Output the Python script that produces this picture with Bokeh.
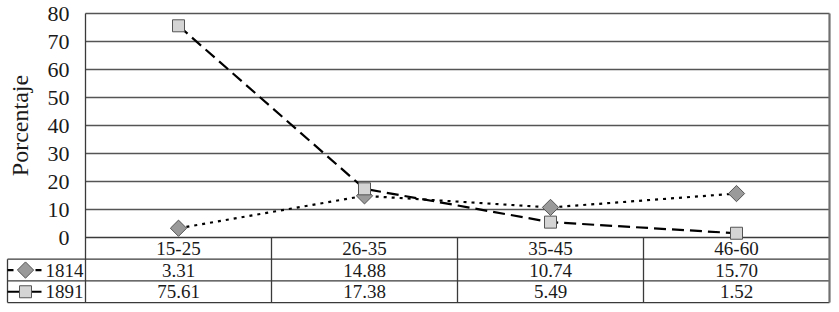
import numpy as np
from bokeh.plotting import figure
from bokeh.models import Range1d, ColumnDataSource
from bokeh.core.properties import value
from bokeh.embed import file_html
from bokeh.resources import INLINE

categories = ["15-25", "26-35", "35-45", "46-60"]
series_names = ["1814", "1891"]
values_1814 = [3.31, 14.88, 10.74, 15.70]
values_1891 = [75.61, 17.38, 5.49, 1.52]
y_ticks = [0, 10, 20, 30, 40, 50, 60, 70, 80]
y_label = "Porcentaje"

FONT = "Liberation Serif"
TXT = "#1a1a1a"
n = len(categories)
xs = [i + 0.5 for i in range(n)]

# ---- layout constants (pixels) ----
W, H = 831, 305
PX_X = 186.0          # pixels per category
PX_Y = 2.8            # pixels per percentage point
LEFT_COL = 85         # canvas-left to plot-area-left
TOP = 13              # space above y=80
ROW_H = 21.7          # table row height
TABLE_L = 7           # table left edge (px from canvas left)

def dx(px):
    return px / PX_X

def dy(px):
    return px / PX_Y

x_left = -dx(LEFT_COL)
x_right = n + dx(W - LEFT_COL - n * PX_X)
y_top = 80 + dy(TOP)
y_bottom = y_top - dy(H)
rows = [0, -dy(ROW_H), -dy(2 * ROW_H), -dy(3 * ROW_H)]

p = figure(width=W, height=H, output_backend="svg", toolbar_location=None,
           x_range=Range1d(x_left, x_right), y_range=Range1d(y_bottom, y_top),
           x_axis_location=None, y_axis_location=None,
           min_border=0, min_border_left=0, min_border_right=0,
           min_border_top=0, min_border_bottom=0)
p.outline_line_color = None
p.xgrid.visible = False
p.ygrid.visible = False
p.background_fill_color = "white"

GRID = "#555555"
DARK = "#3a3a3a"

# horizontal grid lines (10..80) across the plot area
p.segment(x0=[0] * (len(y_ticks) - 1), y0=y_ticks[1:], x1=[n] * (len(y_ticks) - 1),
          y1=y_ticks[1:], line_color=GRID, line_width=1.3)
# y tick labels
p.text(x=[-dx(16)] * len(y_ticks), y=y_ticks, text=[str(v) for v in y_ticks],
       text_font=value(FONT), text_font_size="22px", text_align="right",
       text_baseline="middle", text_color=TXT)
# y-axis title
p.text(x=[x_left + dx(19)], y=[40], text=[y_label], angle=np.pi / 2,
       text_font=value(FONT), text_font_size="24px", text_align="center",
       text_baseline="middle", text_color=TXT)

# table grid
tl = x_left + dx(TABLE_L)
p.segment(x0=[0, tl, tl, tl], y0=rows, x1=[n] * 4, y1=rows,
          line_color=DARK, line_width=1.3)
p.segment(x0=[tl], y0=[rows[1]], x1=[tl], y1=[rows[3]], line_color=DARK, line_width=1.3)
p.segment(x0=list(range(n)), y0=[rows[3]] * n, x1=list(range(n)),
          y1=[80] + [rows[0]] * (n - 1), line_color=DARK, line_width=1.3)
p.segment(x0=[n], y0=[rows[3]], x1=[n], y1=[80], line_color="#707070", line_width=2.2)

# series
s1 = ColumnDataSource(dict(x=xs, y=values_1814))
s2 = ColumnDataSource(dict(x=xs, y=values_1891))
p.line("x", "y", source=s2, line_color="black", line_width=2.2, line_dash="12 6")
p.line("x", "y", source=s1, line_color="black", line_width=2.2, line_dash="3 5")
p.scatter("x", "y", source=s1, marker="square", angle=np.pi / 4, size=11.5,
          fill_color="#9a9a9a", line_color="#555555", line_width=1)
p.scatter("x", "y", source=s2, marker="square", size=12,
          fill_color="#d4d4d4", line_color="#555555", line_width=1)

# table text
FS = "19px"
row_mid = [(rows[i] + rows[i + 1]) / 2 for i in range(3)]
p.text(x=xs, y=[row_mid[0]] * n, text=categories, text_font=value(FONT),
       text_font_size=FS, text_align="center", text_baseline="middle", text_color=TXT)
p.text(x=xs, y=[row_mid[1]] * n, text=["%.2f" % v for v in values_1814],
       text_font=value(FONT), text_font_size=FS, text_align="center",
       text_baseline="middle", text_color=TXT)
p.text(x=xs, y=[row_mid[2]] * n, text=["%.2f" % v for v in values_1891],
       text_font=value(FONT), text_font_size=FS, text_align="center",
       text_baseline="middle", text_color=TXT)

# legend keys in the table
k0, k1, kc = tl, x_left + dx(41), x_left + dx(25)
p.segment(x0=[k0], y0=[row_mid[1]], x1=[k1], y1=[row_mid[1]], line_color="black",
          line_width=2.2, line_dash="6 22")
p.scatter([kc], [row_mid[1]], marker="square", angle=np.pi / 4, size=11.5,
          fill_color="#9a9a9a", line_color="#555555", line_width=1)
p.segment(x0=[k0], y0=[row_mid[2]], x1=[k1], y1=[row_mid[2]], line_color="black",
          line_width=2.2)
p.scatter([kc], [row_mid[2]], marker="square", size=12,
          fill_color="#d4d4d4", line_color="#555555", line_width=1)
p.text(x=[x_left + dx(45)] * 2, y=row_mid[1:], text=series_names, text_font=value(FONT),
       text_font_size=FS, text_align="left", text_baseline="middle", text_color=TXT)

open("out.html", "w").write(file_html(p, INLINE))
